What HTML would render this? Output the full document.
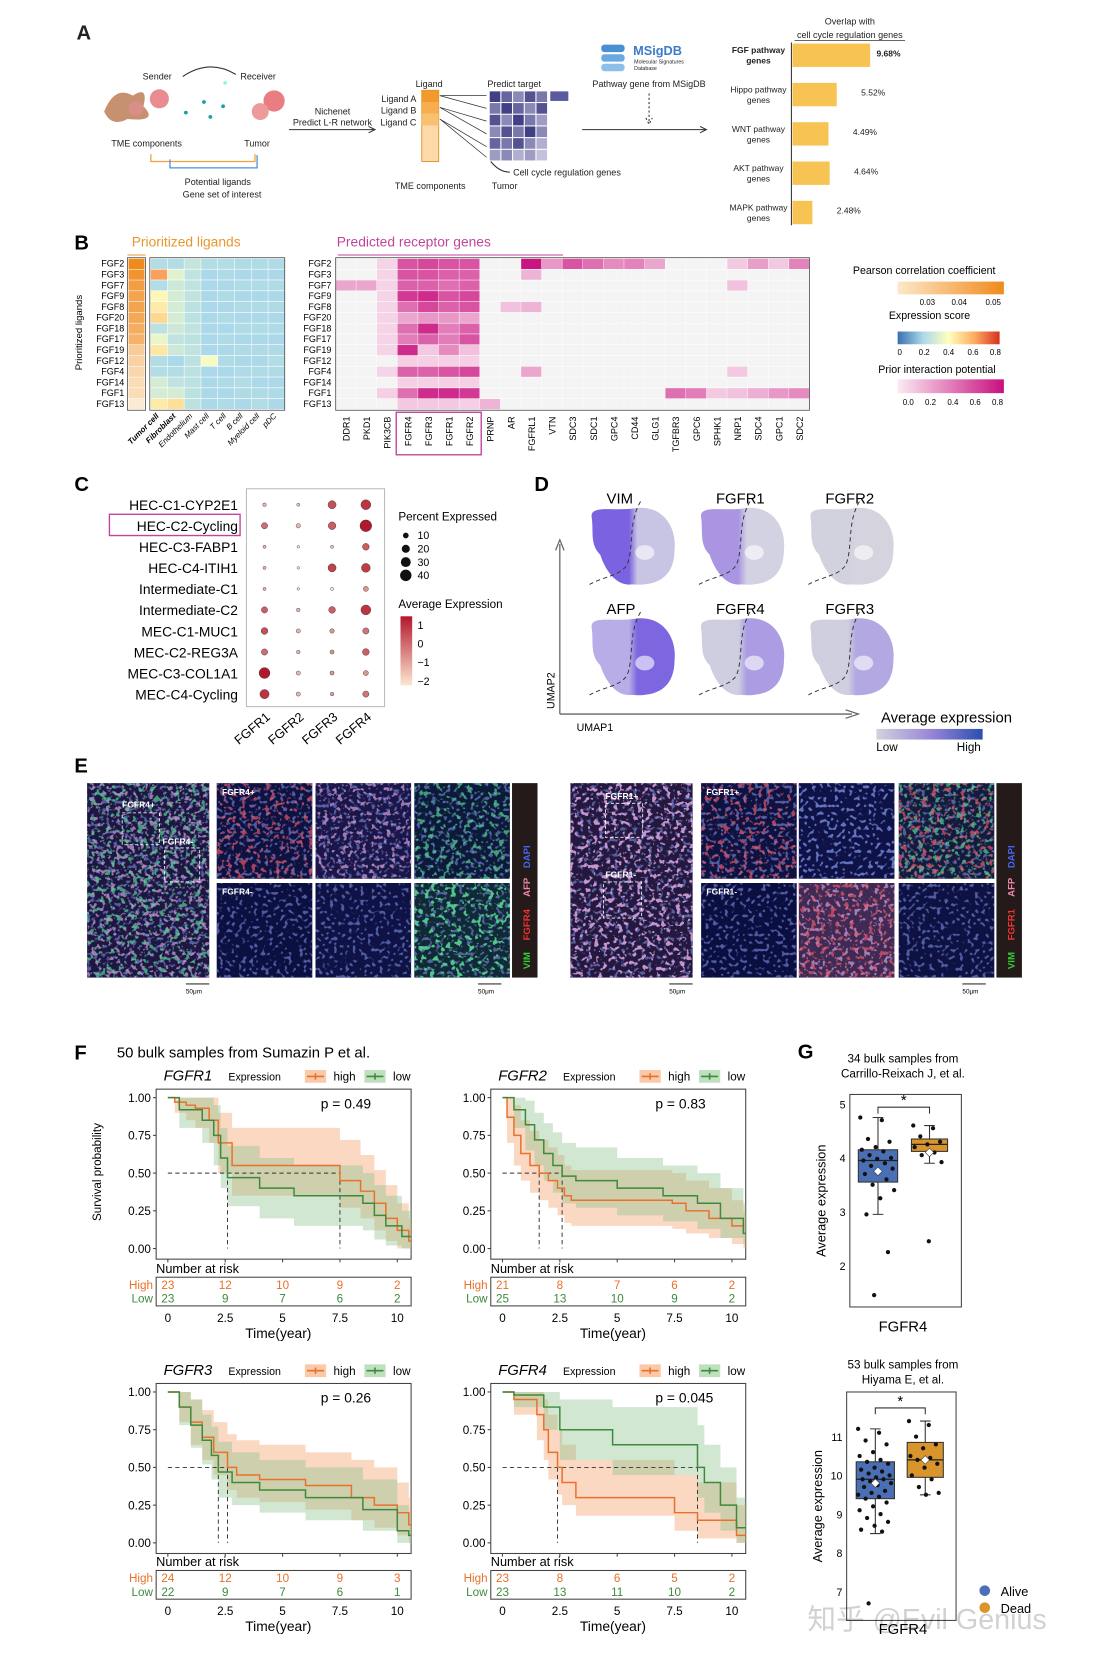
<!DOCTYPE html>
<html><head><meta charset="utf-8"><title>Figure</title>
<style>
html,body{margin:0;padding:0;background:#fff;}
svg{display:block;font-family:"Liberation Sans","Noto Sans CJK SC",sans-serif;}
</style></head>
<body>
<svg id="fig" xmlns="http://www.w3.org/2000/svg" viewBox="0 0 1024 1550" width="1101" height="1667" preserveAspectRatio="none">
<defs>
<filter id="spR" x="0" y="0" width="1" height="1"><feTurbulence type="fractalNoise" baseFrequency="0.22" numOctaves="2" seed="3"/><feColorMatrix values="0 0 0 0 0.8  0 0 0 0 0.1  0 0 0 0 0.15  12 0 0 0 -7.0"/></filter>
<filter id="spG" x="0" y="0" width="1" height="1"><feTurbulence type="fractalNoise" baseFrequency="0.2" numOctaves="2" seed="7"/><feColorMatrix values="0 0 0 0 0.1  0 0 0 0 0.65  0 0 0 0 0.3  12 0 0 0 -7.0"/></filter>
<filter id="spB" x="0" y="0" width="1" height="1"><feTurbulence type="fractalNoise" baseFrequency="0.28" numOctaves="1" seed="11"/><feColorMatrix values="0 0 0 0 0.15  0 0 0 0 0.2  0 0 0 0 0.6  10 0 0 0 -5.6"/></filter>
<filter id="spP" x="0" y="0" width="1" height="1"><feTurbulence type="fractalNoise" baseFrequency="0.22" numOctaves="2" seed="5"/><feColorMatrix values="0 0 0 0 0.65  0 0 0 0 0.35  0 0 0 0 0.7  12 0 0 0 -7.0"/></filter>
<linearGradient id="gPear" x1="0" x2="1"><stop offset="0" stop-color="#fde8c8"/><stop offset="1" stop-color="#f08a1c"/></linearGradient>
<linearGradient id="gExp" x1="0" x2="1"><stop offset="0" stop-color="#3a6fb0"/><stop offset="0.25" stop-color="#abd9e9"/><stop offset="0.5" stop-color="#ffffbf"/><stop offset="0.75" stop-color="#fdae61"/><stop offset="1" stop-color="#d7301f"/></linearGradient>
<linearGradient id="gPrior" x1="0" x2="1"><stop offset="0" stop-color="#fbeaf3"/><stop offset="1" stop-color="#c8107e"/></linearGradient>
<linearGradient id="gAvg" x1="0" x2="0" y1="0" y2="1"><stop offset="0" stop-color="#b2182b"/><stop offset="1" stop-color="#fde7d2"/></linearGradient>
<linearGradient id="gUmap" x1="0" x2="1"><stop offset="0" stop-color="#d3d2dc"/><stop offset="0.5" stop-color="#9a88d8"/><stop offset="1" stop-color="#2b4fb0"/></linearGradient>
</defs>
<g transform="scale(0.988)">

<!-- ===== Panel A ===== -->
<g font-size="8.5" fill="#222">
<text x="72" y="37" font-size="19" font-weight="bold">A</text>
<text x="148" y="75" text-anchor="middle">Sender</text>
<text x="243" y="75" text-anchor="middle">Receiver</text>
<path d="M172 72 Q197 55 222 70" fill="none" stroke="#333" stroke-width="1"/>
<path d="M98 105 Q108 80 125 90 Q140 80 135 100 Q150 115 120 112 Q105 120 98 105Z" fill="#c79070"/>
<circle cx="150" cy="93" r="9" fill="#e98c91"/>
<circle cx="128" cy="102" r="7" fill="#d98f88"/>
<circle cx="258" cy="95" r="10" fill="#ea7d82"/>
<circle cx="245" cy="105" r="8" fill="#ef9a9a"/>
<g fill="#1aa0a8"><circle cx="175" cy="106" r="1.8"/><circle cx="192" cy="96" r="1.8"/><circle cx="210" cy="100" r="1.8"/><circle cx="212" cy="78" r="1.8" fill="#8fd"/><circle cx="198" cy="110" r="1.8"/></g>
<text x="138" y="138" text-anchor="middle">TME components</text>
<text x="242" y="138" text-anchor="middle">Tumor</text>
<path d="M142 145 V152 H240 V145" fill="none" stroke="#f0a040" stroke-width="1.2"/>
<path d="M160 150 V158 H242 V146" fill="none" stroke="#4a90d9" stroke-width="1.2"/>
<text x="205" y="174" text-anchor="middle">Potential ligands</text>
<text x="209" y="186" text-anchor="middle">Gene set of interest</text>
<text x="313" y="108" text-anchor="middle">Nichenet</text>
<text x="313" y="118" text-anchor="middle">Predict L-R network</text>
<path d="M272 122 H352 M347 119 L353 122 L347 125" fill="none" stroke="#333"/>
<text x="404" y="82" text-anchor="middle">Ligand</text>
<text x="392" y="96" text-anchor="end">Ligand A</text>
<text x="392" y="107" text-anchor="end">Ligand B</text>
<text x="392" y="118" text-anchor="end">Ligand C</text>
<g><rect x="397" y="85" width="16" height="67" fill="#fbd9a8" stroke="#e08a20" stroke-width="0.8"/><rect x="397" y="85" width="16" height="11" fill="#f39a2c"/><rect x="397" y="96" width="16" height="11" fill="#f6ae50"/><rect x="397" y="107" width="16" height="11" fill="#f8c070"/></g>
<g stroke="#333" stroke-width="0.7"><path d="M414 90 L458 90 M414 90 L458 102 M414 101 L458 114 M414 101 L458 126 M414 112 L458 138 M414 112 L458 148"/></g>
<text x="484" y="82" text-anchor="middle">Predict target</text>
<g id="targetGrid"></g>
<rect x="518" y="86" width="17" height="9" fill="#5a5aa0"/>
<path d="M462 152 Q470 162 480 162" fill="none" stroke="#333"/>
<text x="483" y="165">Cell cycle regulation genes</text>
<text x="405" y="178" text-anchor="middle">TME components</text>
<text x="475" y="178" text-anchor="middle">Tumor</text>
<g><rect x="566" y="42" width="22" height="7" rx="3" fill="#4a8fd0"/><rect x="566" y="51" width="22" height="7" rx="3" fill="#6aa8e0"/><rect x="566" y="60" width="22" height="7" rx="3" fill="#8cc0ea"/></g>
<text x="596" y="52" font-size="12" fill="#3a7cc8" font-weight="bold">MSigDB</text>
<text x="597" y="60" font-size="5">Molecular Signatures</text>
<text x="597" y="66" font-size="5">Database</text>
<text x="611" y="82" text-anchor="middle">Pathway gene from MSigDB</text>
<path d="M611 88 V114 M608 111 L611 117 L614 111" fill="none" stroke="#333" stroke-dasharray="2 2"/>
<path d="M548 122 H664 M659 119 L665 122 L659 125" fill="none" stroke="#333"/>
<text x="800" y="23" text-anchor="middle">Overlap with</text>
<text x="800" y="36" text-anchor="middle">cell cycle regulation genes</text>
<path d="M748 38 H852" stroke="#333" stroke-width="0.7"/>
<g id="overlapBars"></g>
</g>

<!-- ===== Panel B ===== -->
<g>
<text x="70" y="235" font-size="19" font-weight="bold">B</text>
<text x="124" y="232" font-size="13" fill="#e8962d">Prioritized ligands</text>
<path d="M120 240 H137" stroke="#e8962d"/>
<text x="317" y="232" font-size="13" fill="#c0469a">Predicted receptor genes</text>
<path d="M318 240 H530" stroke="#c0469a"/>
<text transform="translate(77,313) rotate(-90)" font-size="9" text-anchor="middle">Prioritized ligands</text>
<g id="heatB"></g>
<rect x="373" y="388" width="80" height="40" fill="none" stroke="#c0469a" stroke-width="1.3"/>
<text x="870" y="258" font-size="10" text-anchor="middle">Pearson correlation coefficient</text>
<rect x="845" y="265" width="100" height="12" fill="url(#gPear)"/>
<text x="875" y="300" font-size="10" text-anchor="middle">Expression score</text>
<rect x="845" y="312" width="96" height="12" fill="url(#gExp)"/>
<text x="882" y="351" font-size="10" text-anchor="middle">Prior interaction potential</text>
<rect x="845" y="357" width="100" height="13" fill="url(#gPrior)"/>
<g id="legB" font-size="7.5" text-anchor="middle"></g>
</g>

<!-- ===== Panel C ===== -->
<g>
<text x="70" y="462" font-size="19" font-weight="bold">C</text>
<rect x="232" y="460" width="130" height="205" fill="none" stroke="#bbb"/>
<g id="dotC"></g>
<rect x="103" y="484" width="123" height="20" fill="none" stroke="#c0469a" stroke-width="1.3"/>
<text x="375" y="490" font-size="11">Percent Expressed</text>
<text x="375" y="572" font-size="11">Average Expression</text>
<rect x="377" y="580" width="11" height="65" fill="url(#gAvg)"/>
</g>

<!-- ===== Panel D ===== -->
<g>
<text x="503" y="462" font-size="19" font-weight="bold">D</text>
<path d="M527 672 V512 M523 518 L527 508 L531 518" fill="none" stroke="#666" stroke-width="1.2"/>
<path d="M527 672 H802 M796 668 L808 672 L796 676" fill="none" stroke="#666" stroke-width="1.2"/>
<text transform="translate(522,650) rotate(-90)" font-size="10" text-anchor="middle">UMAP2</text>
<text x="560" y="688" font-size="10" text-anchor="middle">UMAP1</text>
<g id="umapG"></g>
<text x="891" y="680" font-size="14" text-anchor="middle">Average expression</text>
<rect x="825" y="686" width="100" height="10" fill="url(#gUmap)"/>
<text x="835" y="707" font-size="11" text-anchor="middle">Low</text>
<text x="912" y="707" font-size="11" text-anchor="middle">High</text>
</g>

<!-- ===== Panel E ===== -->
<g>
<text x="70" y="727" font-size="19" font-weight="bold">E</text>
<g id="microE"></g>
</g>

<!-- ===== Panel F ===== -->
<g>
<text x="70" y="997" font-size="19" font-weight="bold">F</text>
<text x="110" y="995" font-size="14">50 bulk samples from Sumazin P et al.</text>
<text transform="translate(95,1103) rotate(-90)" font-size="11" text-anchor="middle">Survival probability</text>
<g id="kmF"></g>
</g>

<!-- ===== Panel G ===== -->
<g>
<text x="751" y="996" font-size="19" font-weight="bold">G</text>
<g id="boxG"></g>
<circle cx="927" cy="1497" r="5" fill="#4a6fb5"/>
<text x="942" y="1502" font-size="12">Alive</text>
<circle cx="927" cy="1513" r="5" fill="#d9952b"/>
<text x="942" y="1518" font-size="12">Dead</text>
<text x="760" y="1533" font-size="27" fill="#000" fill-opacity="0.18">知乎 @Evil Genius</text>
</g>
</g>
</svg>

<script>
const NS='http://www.w3.org/2000/svg';
function mk(tag,a,parent){const e=document.createElementNS(NS,tag);for(const k in a)e.setAttribute(k,a[k]);parent.appendChild(e);return e;}
function tx(parent,x,y,s,a){const e=mk('text',Object.assign({x:x,y:y},a||{}),parent);e.textContent=s;return e;}
function lerpC(c1,c2,t){const p=s=>[1,3,5].map(i=>parseInt(s.substr(i,2),16));const a=p(c1),b=p(c2);return 'rgb('+a.map((v,i)=>Math.round(v+(b[i]-v)*t)).join(',')+')';}
function stops(st,v){for(let i=1;i<st.length;i++){if(v<=st[i][0]){const t=(v-st[i-1][0])/(st[i][0]-st[i-1][0]);return lerpC(st[i-1][1],st[i][1],Math.max(0,Math.min(1,t)));}}return st[st.length-1][1];}

/* ---------- Panel A: target grid + overlap bars ---------- */
const gridVals=[[.9,.7,.5,.8,.6],[.6,.9,.7,.5,.8],[.8,.5,.9,.6,.4],[.5,.8,.6,.9,.5],[.7,.6,.8,.5,.3],[.4,.5,.3,.4,.2]];
const tg=document.getElementById('targetGrid');
gridVals.forEach((row,r)=>row.forEach((v,c)=>{
  const el=mk('rect',{x:461+c*11,y:86+r*11,width:10,height:10,fill:lerpC('#e8e6f4','#2e2e7a',v)},tg);
  
  
}));
const pathways=['FGF pathway|genes','Hippo pathway|genes','WNT pathway|genes','AKT pathway|genes','MAPK pathway|genes'];
const overlapPct=[9.68,5.52,4.49,4.64,2.48];
const ob=document.getElementById('overlapBars');
const axA=mk('path',{d:'M745 40 V212',stroke:'#333',fill:'none'},ob);


overlapPct.forEach((v,i)=>{
  const y=41+i*37;
  const b=mk('rect',{x:746,y:y,width:v*7.55,height:22,fill:'#f7c352'},ob);
  
  
  const lv=tx(ob,749+v*7.55+(i==0?3:20),y+12,v.toFixed(2)+'%',{'font-size':8,'font-weight':i==0?'bold':'normal'});
  
  
  const parts=pathways[i].split('|');
  const l1=tx(ob,714,y+9,parts[0],{'text-anchor':'middle','font-size':8,'font-weight':i==0?'bold':'normal'});
  
  
  const l2=tx(ob,714,y+19,parts[1],{'text-anchor':'middle','font-size':8,'font-weight':i==0?'bold':'normal'});
  
  
});

/* ---------- Panel B: heatmaps ---------- */
const ligands=['FGF2','FGF3','FGF7','FGF9','FGF8','FGF20','FGF18','FGF17','FGF19','FGF12','FGF4','FGF14','FGF1','FGF13'];
const cellTypes=['Tumor cell','Fibroblast','Endothelium','Mast cell','T cell','B cell','Myeloid cell','pDC'];
const pearson=[.05,.048,.046,.045,.045,.044,.043,.042,.037,.036,.035,.034,.034,.031];
const expTumor=[.22,.62,.22,.42,.45,.5,.24,.35,.46,.22,.22,.3,.3,.45];
const expFib=[.22,.33,.28,.3,.3,.3,.28,.25,.28,.2,.22,.25,.3,.48];
const expEndo=[.26,.25,.25,.25,.24,.24,.25,.24,.25,.24,.24,.24,.24,.24];
const expOther=[.22,.21,.2,.21,.2,.21,.2,.21,.2,.21,.2,.21,.2,.21];
const expMast=[.22,.2,.2,.2,.2,.2,.2,.2,.2,.38,.2,.2,.2,.2];
const receptors=['DDR1','PKD1','PIK3CB','FGFR4','FGFR3','FGFR1','FGFR2','PRNP','AR','FGFRL1','VTN','SDC3','SDC1','GPC4','CD44','GLG1','TGFBR3','GPC6','SPHK1','NRP1','SDC4','GPC1','SDC2'];
const prior=[
[0,0,.08,.55,.6,.55,.55,0,0,.78,.3,.55,.45,.35,.38,.25,0,0,0,.12,.28,.12,.38],
[0,0,.08,.55,.55,.5,.5,0,0,.2,0,0,0,0,0,0,0,0,0,0,0,0,0],
[.25,.25,.08,.5,.5,.45,.5,0,0,0,0,0,0,0,0,0,0,0,0,.15,0,0,0],
[0,0,.08,.65,.7,.55,.6,0,0,0,0,0,0,0,0,0,0,0,0,0,0,0,0],
[0,0,.08,.45,.6,.5,.55,0,.15,.2,0,0,0,0,0,0,0,0,0,0,0,0,0],
[0,0,.08,.25,.3,.3,.25,0,0,0,0,0,0,0,0,0,0,0,0,0,0,0,0],
[0,0,.08,.45,.7,.4,.5,0,0,0,0,0,0,0,0,0,0,0,0,0,0,0,0],
[0,0,.08,.4,.5,.4,.55,0,0,0,0,0,0,0,0,0,0,0,0,0,0,0,0],
[0,0,.08,.7,.12,.35,.15,0,0,0,0,0,0,0,0,0,0,0,0,0,0,0,0],
[0,0,0,.1,.1,.1,.1,0,0,0,0,0,0,0,0,0,0,0,0,0,0,0,0],
[0,0,.08,.5,.5,.55,.6,0,0,.25,0,0,0,0,0,0,0,0,0,.12,0,0,0],
[0,0,0,.1,.1,.1,.1,0,0,0,0,0,0,0,0,0,0,0,0,0,0,0,0],
[0,0,.1,.45,.7,.7,.65,0,0,0,0,0,0,0,0,0,.45,.4,.12,.15,.22,.3,.35],
[0,0,0,.12,.12,.12,.1,.2,0,0,0,0,0,0,0,0,0,0,0,0,0,0,0]];
const expStops=[[0,'#3a6fb0'],[.2,'#abd9e9'],[.4,'#ffffbf'],[.6,'#fdae61'],[.8,'#d7301f']];
const hb=document.getElementById('heatB');
const rowH=10.15, top0=243.5;
ligands.forEach((lg,r)=>{
  const y=top0+r*rowH;
  const l1=tx(hb,117,y+7.5,lg,{'font-size':8.5,'text-anchor':'end'});
  
  
  const l2=tx(hb,312,y+7.5,lg,{'font-size':8.5,'text-anchor':'end'});
  
  
  const pc=mk('rect',{x:121,y:y,width:15,height:rowH-0.5,fill:stops([[.03,'#fdf0dc'],[.05,'#f08a1c']],pearson[r])},hb);
  
  
  const vals=[expTumor[r],expFib[r],expEndo[r],expMast[r],expOther[r],expOther[(r+3)%14],expOther[(r+1)%14],expOther[(r+5)%14]];
  vals.forEach((v,c)=>{
    const e=mk('rect',{x:142+c*15.8,y:y,width:15.3,height:rowH-0.6,fill:stops(expStops,v)},hb);
    
    
  });
  prior[r].forEach((v,c)=>{
    const e=mk('rect',{x:316+c*19.4,y:y,width:19,height:rowH-0.5,fill:v<=0?'#f4f4f4':stops([[0,'#fbeaf3'],[.8,'#c8107e']],v)},hb);
    
    
  });
});
[[120,137],[141,268],[316,762]].forEach(([a,b])=>{
  const f=mk('rect',{x:a,y:top0-1,width:b-a,height:14*rowH+1.5,fill:'none',stroke:'#555','stroke-width':0.8},hb);
  
  
});
cellTypes.forEach((ct,c)=>{
  const x=150+c*15.8;
  const t=tx(hb,x,392,ct,{'font-size':7.5,'text-anchor':'end',transform:'rotate(-45 '+x+' 392)','font-style':'italic','font-weight':c<2?'bold':'normal'});
  
  
});
receptors.forEach((rc,c)=>{
  const x=329+c*19.4;
  const t=tx(hb,x,392,rc,{'font-size':8.5,'text-anchor':'end',transform:'rotate(-90 '+x+' 392)'});
  
  
});
const legB=document.getElementById('legB');
const legTicks=[[['0.03',873],['0.04',903],['0.05',935]],[['0',847],['0.2',870],['0.4',893],['0.6',916],['0.8',937]],[['0.0',855],['0.2',876],['0.4',897],['0.6',918],['0.8',939]]];
const legY=[287,334,381];
legTicks.forEach((set,i)=>set.forEach(([s,x])=>{
  const t=tx(legB,x,legY[i],s);
  
  
}));

/* ---------- Panel C: dot plot ---------- */
const clusters=['HEC-C1-CYP2E1','HEC-C2-Cycling','HEC-C3-FABP1','HEC-C4-ITIH1','Intermediate-C1','Intermediate-C2','MEC-C1-MUC1','MEC-C2-REG3A','MEC-C3-COL1A1','MEC-C4-Cycling'];
const genesC=['FGFR1','FGFR2','FGFR3','FGFR4'];
const pctFGFR1=[4,12,3,3,3,12,14,12,36,26];
const pctFGFR2=[3,6,2,2,2,4,5,4,5,5];
const pctFGFR3=[20,18,3,20,3,14,6,5,5,4];
const pctFGFR4=[30,42,14,24,8,30,12,14,8,12];
const avgFGFR1=[-1.3,-0.2,-1.3,-1.3,-1.3,0,0.2,-0.2,1,0.6];
const avgFGFR2=[-1.5,-1.3,-2,-2,-2,-1.3,-1.3,-1.3,-1.3,-1.3];
const avgFGFR3=[0.2,0,-1.5,0.4,-2,0,-0.8,-0.8,-0.8,-1];
const avgFGFR4=[0.6,1,0,0.5,-0.8,0.6,-0.3,0,-0.8,-0.3];
const pctC=[pctFGFR1,pctFGFR2,pctFGFR3,pctFGFR4], avgC=[avgFGFR1,avgFGFR2,avgFGFR3,avgFGFR4];
const dc=document.getElementById('dotC');
const rad=p=>Math.sqrt(p)*0.85;
const avgCol=v=>lerpC('#fde7d2','#b2182b',(v+2)/3);
clusters.forEach((cl,r)=>{
  const y=475+r*19.8;
  const t=tx(dc,224,y+5,cl,{'font-size':13,'text-anchor':'end'});
  
  
  genesC.forEach((g,c)=>{
    const d=mk('circle',{cx:249+c*31.8,cy:y,r:rad(pctC[c][r]),fill:avgCol(avgC[c][r]),stroke:'#333','stroke-width':0.4},dc);
    
    
  });
});
genesC.forEach((g,c)=>{
  const x=255+c*31.8;
  const t=tx(dc,x,676,g,{'font-size':12,'text-anchor':'end',transform:'rotate(-40 '+x+' 676)'});
  
  
});
const pctLegend=[10,20,30,40];
pctLegend.forEach((p,i)=>{
  const y=504+i*12.5;
  const d=mk('circle',{cx:382,cy:y,r:rad(p),fill:'#111'},dc);
  
  
  const t=tx(dc,393,y+3.5,String(p),{'font-size':10});
  
  
});
const avgLegend=['1','0','\u22121','\u22122'];
avgLegend.forEach((s,i)=>{
  const t=tx(dc,393,592+i*17.5,s,{'font-size':10});
  
  
});

/* ---------- Panel D: UMAPs ---------- */
const umapGenes=['VIM','FGFR1','FGFR2','AFP','FGFR4','FGFR3'];
const umapLeft=['#7a62e0','#a995e2','#d2d1de','#b8ade6','#cfcee0','#d0cfe0'];
const umapRight=['#c8c4e4','#d3d2e2','#d4d3de','#7d66e0','#ab9ce3','#b3a8e2'];
const ug=document.getElementById('umapG');
const defs=document.querySelector('defs');
umapGenes.forEach((g,i)=>{
  const cx=595+(i%3)*103, cy=512+Math.floor(i/3)*104;
  const gr=mk('linearGradient',{id:'ug'+i,x1:0,x2:1},defs);
  mk('stop',{offset:0.45,'stop-color':umapLeft[i]},gr);
  mk('stop',{offset:0.55,'stop-color':umapRight[i]},gr);
  const t=tx(ug,cx-24,cy-38,g,{'font-size':14});
  
  
  const b=mk('path',{d:`M${cx-38} ${cy-25} C${cx-40} ${cy-38} ${cx-15} ${cy-30} ${cx+5} ${cy-34} C${cx+30} ${cy-36} ${cx+42} ${cy-15} ${cx+40} ${cy+5} C${cx+40} ${cy+30} ${cx+25} ${cy+40} ${cx} ${cy+38} C${cx-15} ${cy+40} ${cx-25} ${cy+25} ${cx-30} ${cy+10} C${cx-40} ${cy} ${cx-36} ${cy-12} ${cx-38} ${cy-25}Z`,fill:'url(#ug'+i+')'},ug);
  
  
  const w=mk('ellipse',{cx:cx+12,cy:cy+8,rx:9,ry:7,fill:'#fff','fill-opacity':0.6},ug);
  
  
  const d=mk('path',{d:`M${cx+8} ${cy-40} C${cx-4} ${cy-20} ${cx+2} ${cy+5} ${cx-5} ${cy+20} C${cx-12} ${cy+30} ${cx-25} ${cy+30} ${cx-40} ${cy+38}`,fill:'none',stroke:'#333','stroke-dasharray':'4 3','stroke-width':0.9},ug);
  
  
});

/* ---------- Panel E: microscopy ---------- */
const me=document.getElementById('microE');
function tile(x,y,w,h,base,spots,label,name){
  const r=mk('rect',{x:x,y:y,width:w,height:h,fill:base},me);
  
  
  spots.forEach(f=>{
    const s=mk('rect',{x:x,y:y,width:w,height:h,filter:'url(#'+f+')',opacity:0.7},me);
    
    
  });
  if(label){const t=tx(me,x+5,y+11,label,{'font-size':8,fill:'#fff','font-weight':'bold'});
    
    }
}
tile(82,737,115,183,'#1c1640',['spB','spP','spG'],'','overview-image-fgfr4');
tile(204,737,90,90,'#0e1240',['spB','spR'],'FGFR4+','tile-fgfr4-pos-red');
tile(297,737,90,90,'#1a1648',['spB','spP'],'','tile-fgfr4-pos-afp');
tile(390,737,90,90,'#0c1a3a',['spB','spG'],'','tile-fgfr4-pos-vim');
tile(204,831,90,89,'#0c1040',['spB'],'FGFR4-','tile-fgfr4-neg-red');
tile(297,831,90,89,'#0e1244',['spB'],'','tile-fgfr4-neg-afp');
tile(390,831,90,89,'#0f2a36',['spB','spG','spG'],'','tile-fgfr4-neg-vim');
tile(537,737,115,183,'#24183e',['spB','spP','spP'],'','overview-image-fgfr1');
tile(660,737,90,90,'#0e1240',['spB','spR'],'FGFR1+','tile-fgfr1-pos-red');
tile(752,737,90,90,'#0e1246',['spB','spB'],'','tile-fgfr1-pos-afp');
tile(846,737,90,90,'#121c3c',['spB','spG','spR'],'','tile-fgfr1-pos-vim');
tile(660,831,90,89,'#0b0f40',['spB'],'FGFR1-','tile-fgfr1-neg-red');
tile(752,831,90,89,'#3e2a54',['spP','spR'],'','tile-fgfr1-neg-afp');
tile(846,831,90,89,'#0d1242',['spB'],'','tile-fgfr1-neg-vim');
const ov=[['FGFR4+',115,760],['FGFR4-',153,795],['FGFR1+',570,752],['FGFR1-',570,826]];
ov.forEach(([s,x,y])=>{const t=tx(me,x,y,s,{'font-size':8,fill:'#fff','font-weight':'bold'});
  
  });
[[115,765,35,30],[155,798,33,32],[570,756,35,32],[568,830,36,34]].forEach(([x,y,w,h])=>{
  const r=mk('rect',{x:x,y:y,width:w,height:h,fill:'none',stroke:'#fff','stroke-dasharray':'3 2','stroke-width':0.8},me);
  
  });
[[482,737],[938,737]].forEach(([x,y])=>{
  const r=mk('rect',{x:x,y:y,width:24,height:183,fill:'#241a1a'},me);
  
  
  const chans=[['VIM','#3c3'],[x<900?'FGFR4':'FGFR1','#e33'],['AFP','#e8a'],['DAPI','#46e']];
  let yy=y+175;
  chans.forEach(([s,c])=>{const t=tx(me,x+17,yy,s,{'font-size':9,'font-weight':'bold',fill:c,transform:'rotate(-90 '+(x+17)+' '+yy+')'});
    
    
    yy-=s.length*7+6;});
});
[[175,933,'50μm'],[450,933,'50μm'],[630,933,'50μm'],[906,933,'50μm']].forEach(([x,y,s])=>{
  const l=mk('path',{d:`M${x} ${y-7} H${x+22}`,stroke:'#333'},me);
  
  
  const t=tx(me,x,y+2,s,{'font-size':6});
  
  });

/* ---------- Panel F: KM plots ---------- */
const kmGenes=['FGFR1','FGFR2','FGFR3','FGFR4'];
const kmP=['p = 0.49','p = 0.83','p = 0.26','p = 0.045'];
const hiT1=[0,0.3,0.8,1.2,1.8,2.2,2.8,7.5,8.4,9.0,9.5,10.0,10.5];
const hiS1=[1,.97,.95,.93,.85,.7,.55,.45,.38,.3,.2,.12,.05];
const hiU1=[1,1,1,1,1,.9,.8,.72,.62,.52,.42,.3,.2];
const hiL1=[1,.9,.85,.8,.7,.5,.35,.27,.2,.12,.05,0,0];
const loT1=[0,0.5,1.5,2.0,2.3,2.6,4.0,5.5,8.5,9.0,9.5,10.2];
const loS1=[1,.92,.85,.75,.6,.47,.4,.35,.3,.22,.15,.08];
const loU1=[1,1,1,.95,.8,.68,.6,.55,.5,.42,.35,.25];
const loL1=[1,.8,.7,.55,.4,.28,.2,.15,.12,.06,.02,0];
const hiT2=[0,0.2,0.5,0.8,1.2,1.6,2.0,2.4,2.7,3,7.4,8,9,10,10.5];
const hiS2=[1,.87,.75,.63,.55,.5,.45,.4,.35,.32,.3,.25,.2,.15,.1];
const hiU2=[1,1,.95,.85,.78,.72,.67,.62,.55,.52,.5,.45,.4,.32,.25];
const hiL2=[1,.7,.55,.45,.37,.32,.27,.22,.17,.15,.13,.1,.07,.03,0];
const loT2=[0,0.5,1.0,1.4,1.8,2.2,2.6,3.2,5,7,8.5,9.5,10.5];
const loS2=[1,.92,.82,.72,.63,.55,.48,.45,.4,.35,.3,.2,.1];
const loU2=[1,1,.98,.9,.83,.77,.7,.67,.6,.55,.5,.4,.3];
const loL2=[1,.8,.65,.55,.45,.37,.3,.27,.22,.18,.13,.07,.03];
const hiT3=[0,0.5,1,1.5,2,2.6,3,4,6,8,9,10,10.5];
const hiS3=[1,.9,.8,.7,.6,.5,.45,.42,.38,.3,.25,.2,.12];
const hiU3=[1,1,.95,.88,.8,.72,.68,.65,.6,.55,.5,.4,.3];
const hiL3=[1,.8,.65,.55,.45,.35,.3,.27,.22,.15,.1,.05,0];
const loT3=[0,.5,1,1.5,1.9,2.2,2.8,4,6,8.5,10,10.5];
const loS3=[1,.9,.78,.68,.58,.47,.4,.35,.3,.22,.08,.05];
const loU3=[1,1,.95,.85,.77,.67,.6,.55,.5,.42,.25,.2];
const loL3=[1,.78,.63,.52,.42,.3,.25,.2,.15,.08,0,0];
const hiT4=[0,.5,1.5,1.8,2.0,2.4,2.6,3.2,7.5,8.5,10.2];
const hiS4=[1,.95,.85,.75,.6,.5,.4,.3,.2,.15,.05];
const hiU4=[1,1,1,.95,.85,.75,.65,.55,.45,.4,.25];
const hiL4=[1,.85,.68,.55,.42,.32,.25,.18,.08,.03,0];
const loT4=[0,.5,1.8,2.5,4.8,8.5,8.8,9.5,10.2];
const loS4=[1,.98,.9,.75,.65,.5,.4,.25,.1];
const loU4=[1,1,1,.95,.9,.78,.65,.5,.3];
const loL4=[1,.9,.75,.55,.45,.3,.2,.08,0];
const riskHigh=[[23,12,10,9,2],[21,8,7,6,2],[24,12,10,9,3],[23,8,6,5,2]];
const riskLow=[[23,9,7,6,2],[25,13,10,9,2],[22,9,7,6,1],[23,13,11,10,2]];
const yTicks=[0,0.25,0.5,0.75,1];
const xTicks=[0,2.5,5,7.5,10];
const kmSeries=[[hiT1,hiS1,hiU1,hiL1,loT1,loS1,loU1,loL1],[hiT2,hiS2,hiU2,hiL2,loT2,loS2,loU2,loL2],[hiT3,hiS3,hiU3,hiL3,loT3,loS3,loU3,loL3],[hiT4,hiS4,hiU4,hiL4,loT4,loS4,loU4,loL4]];
const kmG=document.getElementById('kmF');
const OR='#e9712b', GR='#3d8a3d';
kmGenes.forEach((g,k)=>{
  const col=k%2, row=Math.floor(k/2);
  const bx=col?462:147, bw=240;
  const x0=col?473:158, xs=21.6;
  const ytop=row?1310:1033, ybot=row?1452:1175;
  const boxTop=row?1302:1025, boxBot=row?1462:1185;
  const X=t=>x0+t*xs, Y=s=>ybot-(ybot-ytop)*s;
  const xEnd=(bx+bw-x0)/xs;
  const hy=row?1294:1017;
  const gt=tx(kmG,bx+7,hy,g,{'font-size':14,'font-style':'italic'});
  
  
  const et=tx(kmG,bx+68,hy,'Expression',{'font-size':10});
  
  
  [[OR,'#f9c9a8','high',bx+140],[GR,'#bfe0bf','low',bx+196]].forEach(([c,f,s,lx])=>{
    const sw=mk('rect',{x:lx,y:hy-10,width:20,height:12,fill:f},kmG);
    
    
    const ln=mk('path',{d:`M${lx+2} ${hy-4} H${lx+18} M${lx+10} ${hy-7} V${hy-1}`,stroke:c,'stroke-width':1.5},kmG);
    
    
    const lt=tx(kmG,lx+27,hy,s,{'font-size':11});
    
    
  });
  const fr=mk('rect',{x:bx,y:boxTop,width:bw,height:boxBot-boxTop,fill:'#fff',stroke:'#444'},kmG);
  
  
  const S=kmSeries[k];
  const stepPath=(T,V)=>{let d=`M${X(T[0])} ${Y(V[0])}`;for(let i=1;i<T.length;i++)d+=` H${X(T[i])} V${Y(V[i])}`;return d+` H${X(xEnd)}`;};
  const bandPath=(T,U,L)=>{let d=`M${X(T[0])} ${Y(U[0])}`;for(let i=1;i<T.length;i++)d+=` H${X(T[i])} V${Y(U[i])}`;d+=` H${X(xEnd)} V${Y(L[L.length-1])}`;for(let i=T.length-1;i>=1;i--)d+=` H${X(T[i])} V${Y(L[i-1])}`;return d+` H${X(T[0])}Z`;};
  const b1=mk('path',{d:bandPath(S[0],S[2],S[3]),fill:'#f7a878','fill-opacity':0.45},kmG);
  
  
  const b2=mk('path',{d:bandPath(S[4],S[6],S[7]),fill:'#8cc48c','fill-opacity':0.4},kmG);
  
  
  const med=(T,V)=>{for(let i=0;i<V.length;i++)if(V[i]<=0.5)return T[i];return null;};
  const m1=med(S[0],S[1]), m2=med(S[4],S[5]), mm=Math.max(m1,m2);
  const dl=mk('path',{d:`M${X(0)} ${Y(.5)} H${X(mm)} M${X(m1)} ${Y(.5)} V${Y(0)} M${X(m2)} ${Y(.5)} V${Y(0)}`,stroke:'#333','stroke-dasharray':'4 3',fill:'none','stroke-width':0.9},kmG);
  
  
  const l1=mk('path',{d:stepPath(S[0],S[1]),stroke:OR,fill:'none','stroke-width':1.4},kmG);
  
  
  const l2=mk('path',{d:stepPath(S[4],S[5]),stroke:GR,fill:'none','stroke-width':1.4},kmG);
  
  
  const pt=tx(kmG,bx+155,ytop+10,kmP[k],{'font-size':13});
  
  
  yTicks.forEach(v=>{
    const t=tx(kmG,bx-5,Y(v)+4,v.toFixed(2),{'font-size':11,'text-anchor':'end'});
    
    
    const tk=mk('path',{d:`M${bx-3} ${Y(v)} H${bx}`,stroke:'#444'},kmG);
    
    
  });
  const rt=row?1478:1202;
  const nr=tx(kmG,bx,rt-4,'Number at risk',{'font-size':12});
  
  
  const rf=mk('rect',{x:bx,y:rt,width:bw,height:27,fill:'none',stroke:'#444'},kmG);
  
  
  const h1=tx(kmG,bx-3,rt+11,'High',{'font-size':11,fill:OR,'text-anchor':'end'});
  
  
  const h2=tx(kmG,bx-3,rt+24,'Low',{'font-size':11,fill:GR,'text-anchor':'end'});
  
  
  xTicks.forEach((v,i)=>{
    const a=tx(kmG,X(v),rt+11,String(riskHigh[k][i]),{'font-size':11,fill:OR,'text-anchor':'middle'});
    
    
    const b=tx(kmG,X(v),rt+24,String(riskLow[k][i]),{'font-size':11,fill:GR,'text-anchor':'middle'});
    
    
    const t=tx(kmG,X(v),rt+42,String(v),{'font-size':11,'text-anchor':'middle'});
    
    
    const tk=mk('path',{d:`M${X(v)} ${boxBot} V${boxBot+3}`,stroke:'#444'},kmG);
    
    
  });
  const xt=tx(kmG,bx+115,rt+57,'Time(year)',{'font-size':13,'text-anchor':'middle'});
  
  
});

/* ---------- Panel G: box plots ---------- */
const alive1=[4.75,4.7,4.35,4.3,4.2,4.15,4.12,4.05,4.0,3.98,3.95,3.9,3.85,3.8,3.75,3.7,3.6,3.5,3.4,3.25,2.95,2.25,1.45];
const dead1=[4.6,4.55,4.4,4.3,4.25,4.2,4.1,4.05,3.92,2.45];
const alive2=[11.2,11.1,10.9,10.8,10.6,10.5,10.4,10.35,10.3,10.2,10.15,10.1,10.05,10.0,9.95,9.9,9.9,9.85,9.8,9.75,9.7,9.6,9.55,9.5,9.45,9.4,9.3,9.2,9.1,9.0,8.9,8.8,8.7,8.6,8.55,6.7];
const dead2=[11.4,11.3,11.0,10.8,10.7,10.5,10.45,10.4,10.3,10.2,10.0,9.9,9.7,9.55,9.5];
const boxStats1=[[3.55,3.95,4.15,2.95,4.75,3.75],[4.12,4.25,4.35,3.9,4.6,4.1]];
const boxStats2=[[9.4,9.9,10.35,8.5,11.2,9.8],[9.95,10.4,10.85,9.5,11.4,10.4]];
const gTicks1=[2,3,4,5], gTicks2=[7,8,9,10,11];
const bg=document.getElementById('boxG');
const gPlots=[
 {fx:800,fw:105,ft:1030,fb:1230,v0:5,y0:1039,v1:2,y1:1191,ticks:gTicks1,pts:[alive1,dead1],st:boxStats1,bx:[808,858],bw:[37,34],title:['34 bulk samples from','Carrillo-Reixach J, et al.'],ty:1000,lab:1253,br:1042},
 {fx:797,fw:103,ft:1310,fb:1525,v0:11,y0:1352,v1:7,y1:1498,ticks:gTicks2,pts:[alive2,dead2],st:boxStats2,bx:[806,854],bw:[36,34],title:['53 bulk samples from','Hiyama E, et al.'],ty:1288,lab:1538,br:1325}];
gPlots.forEach((p,k)=>{
  const Y=v=>p.y0+(v-p.v0)*(p.y1-p.y0)/(p.v1-p.v0);
  p.title.forEach((s,i)=>{const t=tx(bg,850,p.ty+i*14,s,{'font-size':11,'text-anchor':'middle'});
    
    });
  const f=mk('rect',{x:p.fx,y:p.ft,width:p.fw,height:p.fb-p.ft,fill:'#fff',stroke:'#444'},bg);
  
  
  p.ticks.forEach(v=>{const t=tx(bg,p.fx-4,Y(v)+4,String(v),{'font-size':10,'text-anchor':'end'});
    
    });
  const yl=tx(bg,0,0,'Average expression',{'font-size':12,'text-anchor':'middle',transform:`translate(${p.fx-23},${(p.ft+p.fb)/2}) rotate(-90)`});
  
  
  const cols=['#4a6fb5','#d9952b'];
  p.st.forEach((s,i)=>{
    const x=p.bx[i], w=p.bw[i], cx=x+w/2;
    const wk=mk('path',{d:`M${cx} ${Y(s[3])} V${Y(s[0])} M${cx} ${Y(s[2])} V${Y(s[4])} M${cx-5} ${Y(s[3])} H${cx+5} M${cx-5} ${Y(s[4])} H${cx+5}`,stroke:'#333',fill:'none'},bg);
    
    
    const bxr=mk('rect',{x:x,y:Y(s[2]),width:w,height:Y(s[0])-Y(s[2]),fill:cols[i],stroke:'#333'},bg);
    
    
    const md=mk('path',{d:`M${x} ${Y(s[1])} H${x+w}`,stroke:'#222','stroke-width':1.2},bg);
    
    
    p.pts[i].forEach((v,j)=>{
      const dx=((j*37)%23)/23*w*0.9-w*0.45;
      const d=mk('circle',{cx:cx+dx,cy:Y(v),r:2,fill:'#111'},bg);
      
      
    });
    const mn=mk('path',{d:`M${cx} ${Y(s[5])-4} L${cx+4} ${Y(s[5])} L${cx} ${Y(s[5])+4} L${cx-4} ${Y(s[5])}Z`,fill:'#fff',stroke:'#333','stroke-width':0.5},bg);
    
    
  });
  const c1=p.bx[0]+p.bw[0]/2, c2=p.bx[1]+p.bw[1]/2;
  const br=mk('path',{d:`M${c1} ${p.br+6} V${p.br} H${c2} V${p.br+6}`,stroke:'#333',fill:'none'},bg);
  
  
  const st=tx(bg,(c1+c2)/2,p.br-2,'*',{'font-size':14,'text-anchor':'middle'});
  
  
  const lb=tx(bg,850,p.lab,'FGFR4',{'font-size':14,'text-anchor':'middle'});
  
  
});
</script>
</body></html>
